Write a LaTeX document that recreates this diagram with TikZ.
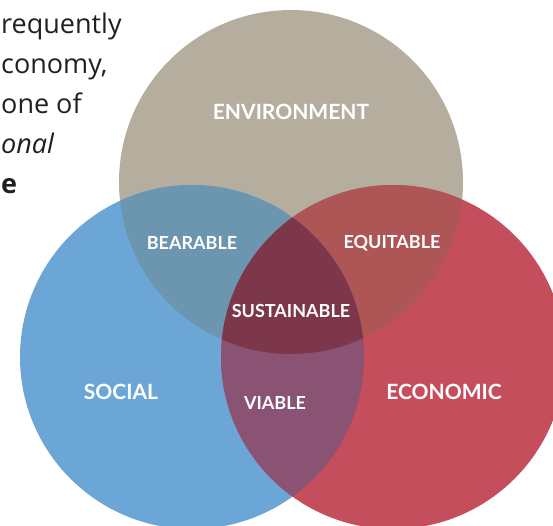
\documentclass[tikz,border=0pt]{standalone}
\usepackage{fontspec}
\setmainfont{Lato}
\newfontfamily\bodyfont{Open Sans}

\definecolor{envFill}{HTML}{B5AE9F}
\definecolor{socFill}{HTML}{6CA6D6}
\definecolor{ecoFill}{HTML}{C54E5C}
\definecolor{bearFill}{HTML}{6C95AF}
\definecolor{equiFill}{HTML}{AE5555}
\definecolor{viabFill}{HTML}{8A5273}
\definecolor{sustFill}{HTML}{7D374A}
\definecolor{bodyText}{HTML}{231F20}

\begin{document}
\begin{tikzpicture}[x=1pt, y=-1pt,
    bigLabel/.style={text=white, font=\bfseries\fontsize{21}{21}\selectfont},
    smallLabel/.style={text=white, font=\bfseries\fontsize{18}{18}\selectfont},
    bodyLine/.style={anchor=base west, inner sep=0pt, text=bodyText, font=\bodyfont\fontsize{27}{27}\selectfont}]

    \newcommand{\ringRadius}{172pt}

    \useasboundingbox (0,0) rectangle (553,525);

    \coordinate (envC) at (291,182);
    \coordinate (socC) at (192,357);
    \coordinate (ecoC) at (393,357);

    % paragraph cut off on the left
    \node[bodyLine] (lineA) at (1,33) {requently};
    \node[bodyLine] (lineB) at (1,73) {conomy,};
    \node[bodyLine] (lineC) at (1,113) {one of};
    \node[bodyLine] (lineD) at (1,153) {\itshape onal};
    \node[bodyLine] (lineE) at (1,193) {\bfseries e};

    \fill[envFill] (envC) circle (\ringRadius); % Environment
    \fill[socFill] (socC) circle (\ringRadius); % Social
    \fill[ecoFill] (ecoC) circle (\ringRadius); % Economic

    \begin{scope}
        \clip (envC) circle (\ringRadius);
        \fill[bearFill] (socC) circle (\ringRadius); % Bearable
        \fill[equiFill] (ecoC) circle (\ringRadius); % Equitable
    \end{scope}
    \begin{scope}
        \clip (socC) circle (\ringRadius);
        \fill[viabFill] (ecoC) circle (\ringRadius); % Viable
        \clip (ecoC) circle (\ringRadius);
        \fill[sustFill] (envC) circle (\ringRadius); % Sustainable
    \end{scope}

    \node[bigLabel] (env) at (291,112) {ENVIRONMENT};
    \node[bigLabel] (soc) at (121,392) {SOCIAL};
    \node[bigLabel] (eco) at (444,392) {ECONOMIC};

    \node[smallLabel] (bear) at (192,243) {BEARABLE};
    \node[smallLabel] (equi) at (392,243) {EQUITABLE};
    \node[smallLabel] (sust) at (291,311) {SUSTAINABLE};
    \node[smallLabel] (viab) at (275,403) {VIABLE};

\end{tikzpicture}
\end{document}
